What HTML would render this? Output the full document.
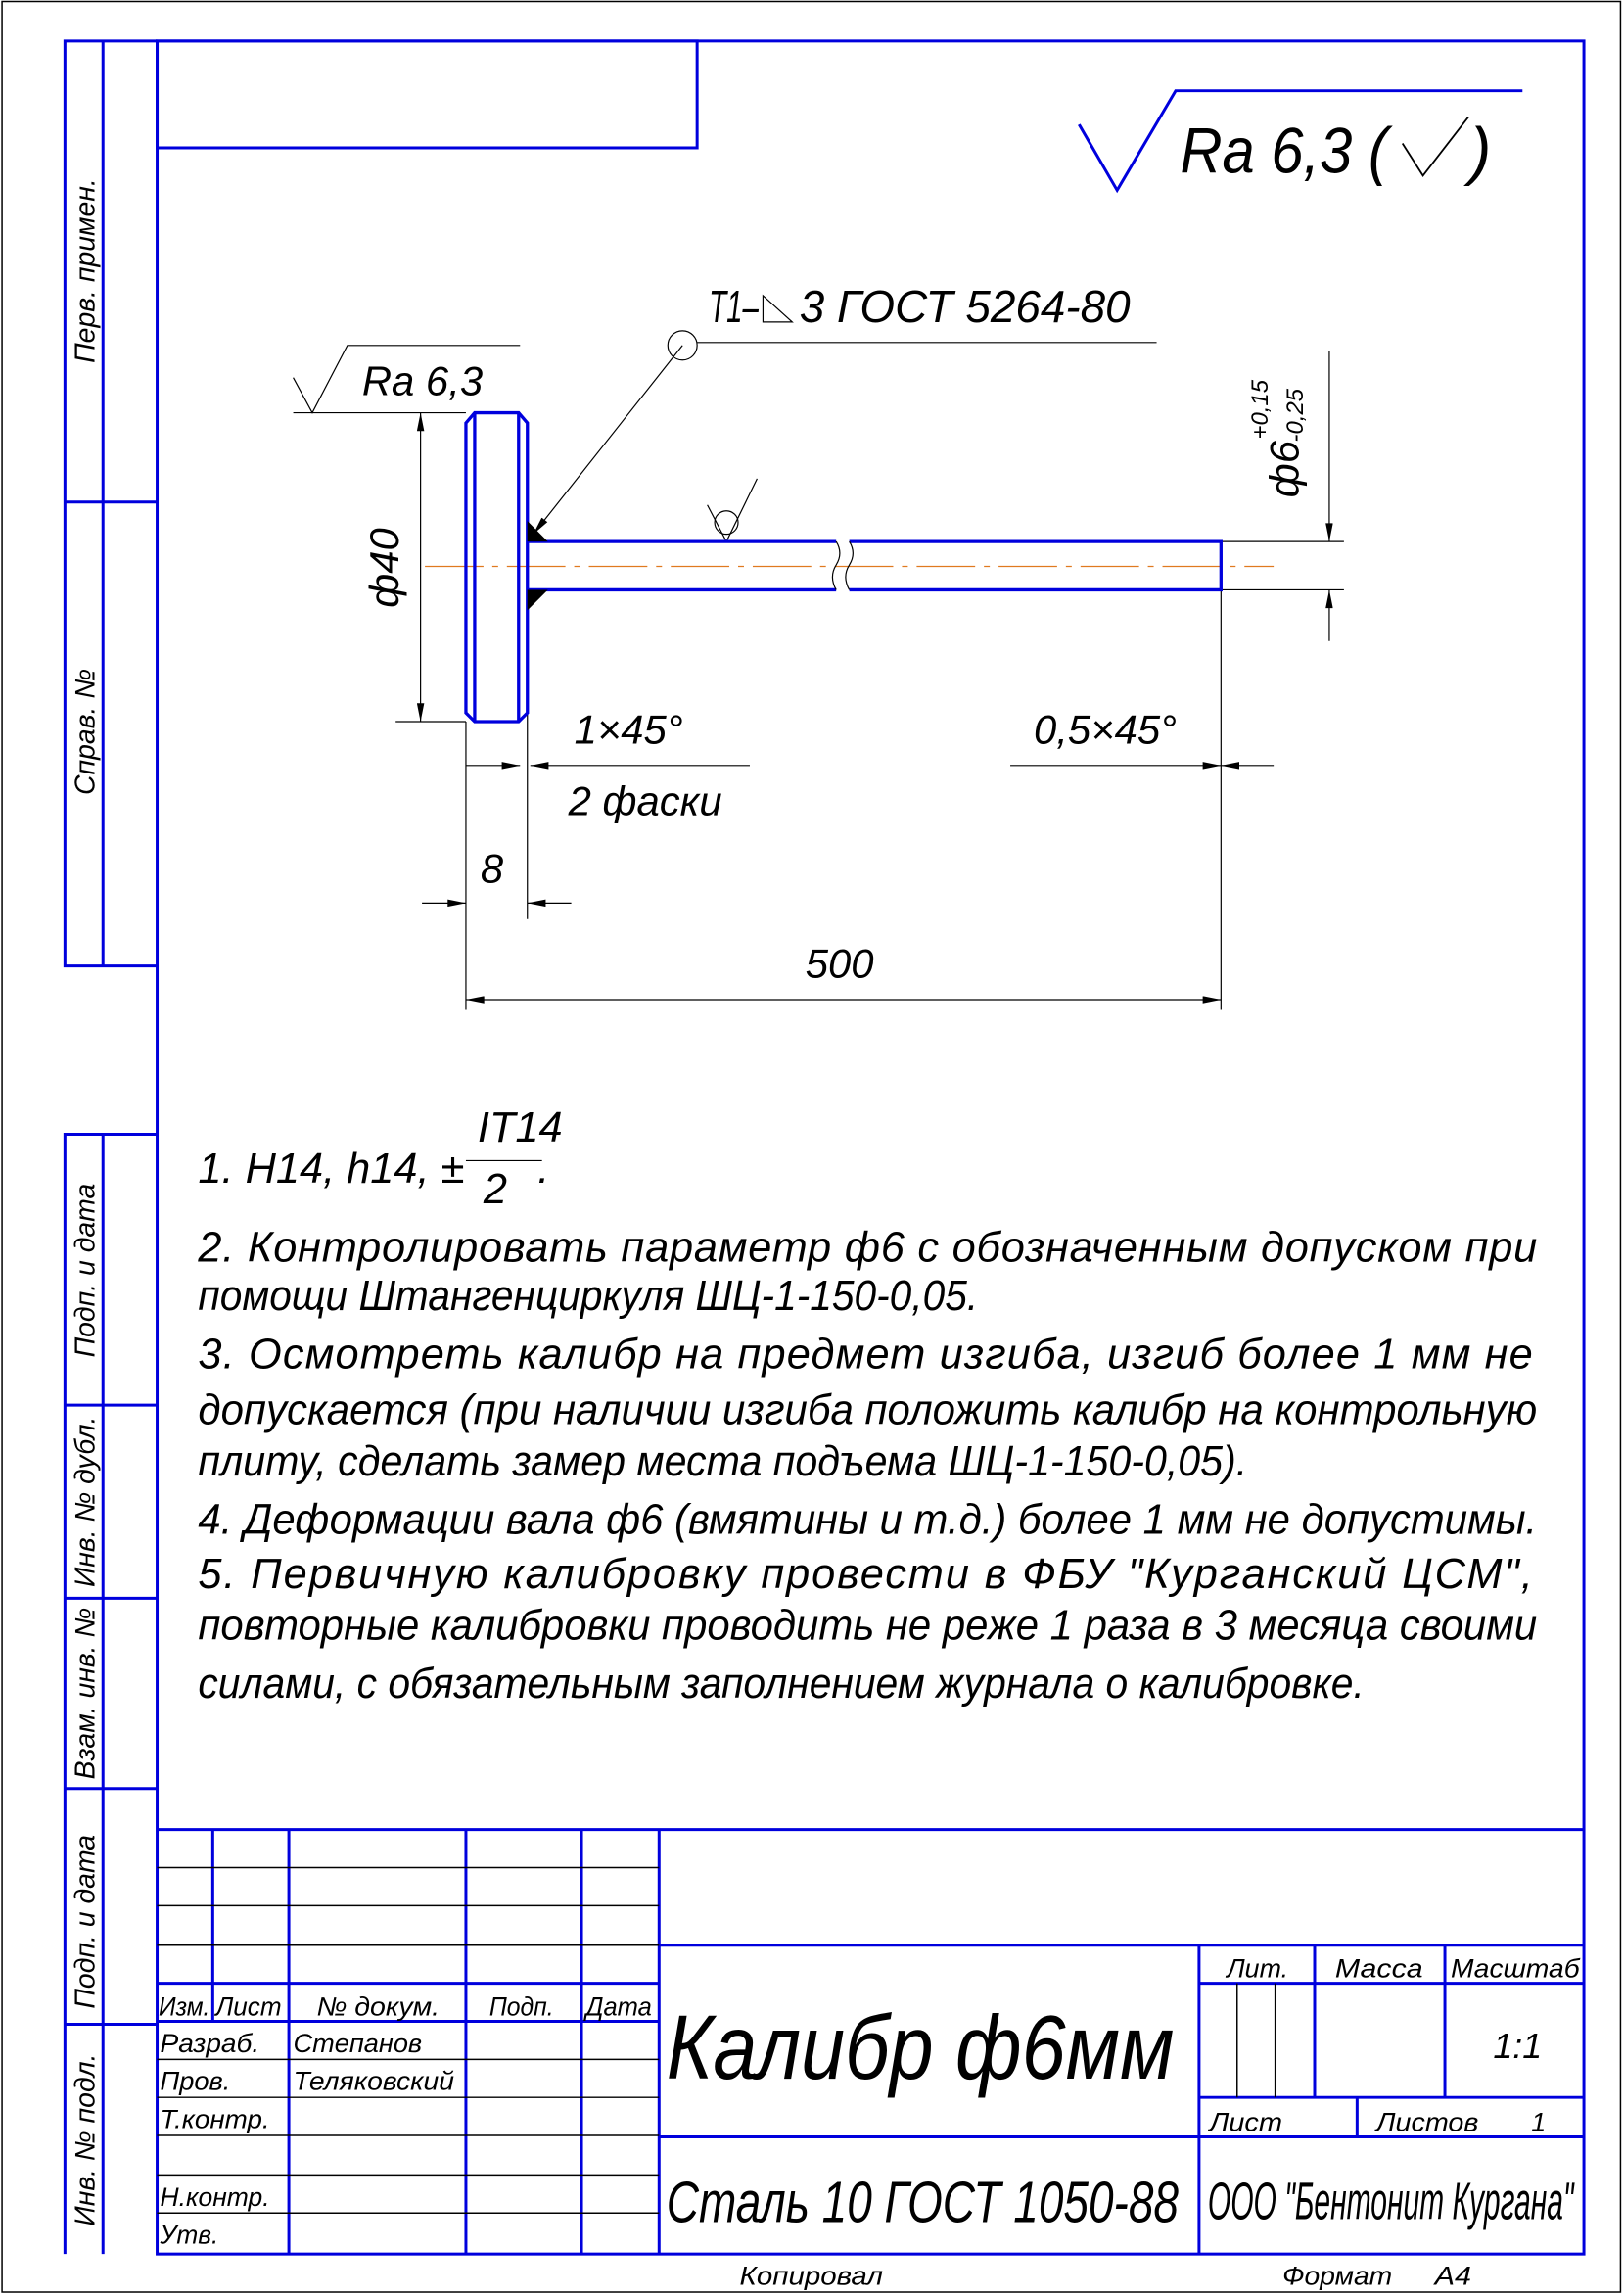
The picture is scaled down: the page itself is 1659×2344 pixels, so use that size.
<!DOCTYPE html>
<html><head><meta charset="utf-8"><style>
html,body{margin:0;padding:0;background:#fff;}
svg{display:block;}
text{font-family:"Liberation Sans","DejaVu Sans",sans-serif;font-style:italic;fill:#000;}
</style></head><body>
<svg width="1659" height="2344" viewBox="0 0 1109 1568" xmlns="http://www.w3.org/2000/svg">
<defs>
<marker id="a" viewBox="0 0 10 4" refX="10" refY="2" markerWidth="14" markerHeight="5" markerUnits="userSpaceOnUse" orient="auto-start-reverse"><path d="M0,0L10,2L0,4z" fill="#000"/></marker>
</defs>
<rect x="1" y="1" width="1106" height="1565" fill="none" stroke="#000" stroke-width="1"/>
<g stroke="#0000dd" stroke-width="2" fill="none">
<rect x="107" y="28" width="975" height="1512"/>
<rect x="107" y="28" width="369" height="73"/>
<polyline points="107,28 44,28 44,660 107,660"/>
<line x1="70" y1="28" x2="70" y2="660"/>
<line x1="44" y1="343" x2="107" y2="343"/>
<polyline points="107,775 44,775 44,1540"/>
<line x1="70" y1="775" x2="70" y2="1540"/>
<line x1="44" y1="960" x2="107" y2="960"/>
<line x1="44" y1="1092" x2="107" y2="1092"/>
<line x1="44" y1="1222" x2="107" y2="1222"/>
<line x1="44" y1="1383" x2="107" y2="1383"/>
<line x1="107" y1="1250" x2="1082" y2="1250"/>
<line x1="145" y1="1250" x2="145" y2="1381"/>
<line x1="197" y1="1250" x2="197" y2="1540"/>
<line x1="318" y1="1250" x2="318" y2="1540"/>
<line x1="397" y1="1250" x2="397" y2="1540"/>
<line x1="450" y1="1250" x2="450" y2="1540"/>
<line x1="107" y1="1355" x2="450" y2="1355"/>
<line x1="107" y1="1381" x2="450" y2="1381"/>
<line x1="450" y1="1329" x2="1082" y2="1329"/>
<line x1="450" y1="1460" x2="1082" y2="1460"/>
<line x1="819" y1="1329" x2="819" y2="1540"/>
<line x1="819" y1="1355" x2="1082" y2="1355"/>
<line x1="898" y1="1329" x2="898" y2="1433"/>
<line x1="987" y1="1329" x2="987" y2="1433"/>
<line x1="819" y1="1433" x2="1082" y2="1433"/>
<line x1="927" y1="1433" x2="927" y2="1460"/>
</g>
<g stroke="#000" stroke-width="1" fill="none">
<line x1="107" y1="1276" x2="450" y2="1276"/>
<line x1="107" y1="1302" x2="450" y2="1302"/>
<line x1="107" y1="1329" x2="450" y2="1329"/>
<line x1="107" y1="1407" x2="450" y2="1407"/>
<line x1="107" y1="1433" x2="450" y2="1433"/>
<line x1="107" y1="1459" x2="450" y2="1459"/>
<line x1="107" y1="1486" x2="450" y2="1486"/>
<line x1="107" y1="1512" x2="450" y2="1512"/>
<line x1="845" y1="1355" x2="845" y2="1433"/>
<line x1="871" y1="1355" x2="871" y2="1433"/>
</g>
<g font-size="19">
<text transform="translate(64,185) rotate(-90)" text-anchor="middle">Перв. примен.</text>
<text transform="translate(64,500) rotate(-90)" text-anchor="middle">Справ. №</text>
<text transform="translate(64,868) rotate(-90)" text-anchor="middle">Подп. и дата</text>
<text transform="translate(64,1026) rotate(-90)" text-anchor="middle">Инв. № дубл.</text>
<text transform="translate(64,1157) rotate(-90)" text-anchor="middle">Взам. инв. №</text>
<text transform="translate(64,1313) rotate(-90)" text-anchor="middle">Подп. и дата</text>
<text transform="translate(64,1462) rotate(-90)" text-anchor="middle">Инв. № подл.</text>
</g>
<g font-size="18">
<text x="108" y="1377" textLength="35" lengthAdjust="spacingAndGlyphs">Изм.</text>
<text x="147" y="1377" textLength="45" lengthAdjust="spacingAndGlyphs">Лист</text>
<text x="216" y="1377" textLength="84" lengthAdjust="spacingAndGlyphs">№ докум.</text>
<text x="334" y="1377" textLength="44" lengthAdjust="spacingAndGlyphs">Подп.</text>
<text x="400" y="1377" textLength="45" lengthAdjust="spacingAndGlyphs">Дата</text>
<text x="109" y="1402" textLength="68" lengthAdjust="spacingAndGlyphs">Разраб.</text>
<text x="200" y="1402" textLength="88" lengthAdjust="spacingAndGlyphs">Степанов</text>
<text x="109" y="1428" textLength="48" lengthAdjust="spacingAndGlyphs">Пров.</text>
<text x="200" y="1428" textLength="110" lengthAdjust="spacingAndGlyphs">Теляковский</text>
<text x="109" y="1454" textLength="75" lengthAdjust="spacingAndGlyphs">Т.контр.</text>
<text x="109" y="1507" textLength="75" lengthAdjust="spacingAndGlyphs">Н.контр.</text>
<text x="109" y="1533" textLength="40" lengthAdjust="spacingAndGlyphs">Утв.</text>
<text x="838" y="1351" textLength="42" lengthAdjust="spacingAndGlyphs">Лит.</text>
<text x="912" y="1351" textLength="60" lengthAdjust="spacingAndGlyphs">Масса</text>
<text x="991" y="1351" textLength="88" lengthAdjust="spacingAndGlyphs">Масштаб</text>
<text x="1020" y="1406" font-size="24">1:1</text>
<text x="826" y="1456" textLength="50" lengthAdjust="spacingAndGlyphs">Лист</text>
<text x="940" y="1456" textLength="70" lengthAdjust="spacingAndGlyphs">Листов</text>
<text x="1046" y="1456">1</text>
<text x="505" y="1561" textLength="98" lengthAdjust="spacingAndGlyphs">Копировал</text>
<text x="876" y="1561" textLength="75" lengthAdjust="spacingAndGlyphs">Формат</text>
<text x="980" y="1561" textLength="25" lengthAdjust="spacingAndGlyphs">А4</text>
</g>
<text x="455" y="1420" font-size="62" textLength="347" lengthAdjust="spacingAndGlyphs">Калибр ф6мм</text>
<text x="455" y="1518" font-size="40" textLength="350" lengthAdjust="spacingAndGlyphs">Сталь 10 ГОСТ 1050-88</text>
<text x="825" y="1516" font-size="36" textLength="250" lengthAdjust="spacingAndGlyphs">ООО "Бентонит Кургана"</text>
<polyline points="737,85 763,130 803,62 1040,62" fill="none" stroke="#0000dd" stroke-width="2"/>
<text x="806" y="118" font-size="44" textLength="142" lengthAdjust="spacingAndGlyphs">Ra 6,3 (</text>
<polyline points="958,98 972,120 1003,80" fill="none" stroke="#000" stroke-width="1.2"/>
<text x="1004" y="118" font-size="44">)</text>
<text x="484" y="220" font-size="31" textLength="34" lengthAdjust="spacingAndGlyphs">Т1–</text>
<polygon points="521,220 521,202 541,220" fill="none" stroke="#000" stroke-width="0.8"/>
<text x="546" y="220" font-size="31" textLength="226" lengthAdjust="spacingAndGlyphs">3 ГОСТ 5264-80</text>
<g stroke="#000" stroke-width="0.8" fill="none">
<line x1="476" y1="234" x2="790" y2="234"/>
<circle cx="466" cy="236" r="10"/>
<line x1="466" y1="236" x2="364" y2="365" marker-end="url(#a)"/>
<polyline points="483,345 496,370 517,327"/>
<circle cx="496" cy="357" r="8"/>
<polyline points="200,258 213,282 237,236 355,236"/>
<line x1="200" y1="282" x2="318" y2="282"/>
<line x1="270" y1="493" x2="318" y2="493"/>
<line x1="287" y1="282" x2="287" y2="493" marker-start="url(#a)" marker-end="url(#a)"/>
<line x1="834" y1="370" x2="918" y2="370"/>
<line x1="834" y1="403" x2="918" y2="403"/>
<line x1="908" y1="240" x2="908" y2="370" marker-end="url(#a)"/>
<line x1="908" y1="438" x2="908" y2="403" marker-end="url(#a)"/>
<line x1="318" y1="493" x2="318" y2="690"/>
<line x1="360" y1="403" x2="360" y2="628"/>
<line x1="834" y1="403" x2="834" y2="690"/>
<line x1="318" y1="523" x2="355" y2="523" marker-end="url(#a)"/>
<line x1="512" y1="523" x2="362" y2="523" marker-end="url(#a)"/>
<line x1="690" y1="523" x2="834" y2="523" marker-end="url(#a)"/>
<line x1="870" y1="523" x2="834" y2="523" marker-end="url(#a)"/>
<line x1="288" y1="617" x2="318" y2="617" marker-end="url(#a)"/>
<line x1="390" y1="617" x2="360" y2="617" marker-end="url(#a)"/>
<line x1="318" y1="683" x2="834" y2="683" marker-start="url(#a)" marker-end="url(#a)"/>
</g>
<line x1="290" y1="387" x2="870" y2="387" stroke="#e07a20" stroke-width="0.8" stroke-dasharray="40,6,4,6"/>
<g stroke="#0000dd" stroke-width="2.2" fill="none">
<polygon points="318,289 324,282 354,282 360,289 360,487 354,493 324,493 318,487"/>
<line x1="324" y1="282" x2="324" y2="493"/>
<line x1="354" y1="282" x2="354" y2="493"/>
<polyline points="360,370 571,370"/>
<polyline points="360,403 571,403"/>
<polyline points="580,370 834,370 834,403 580,403"/>
</g>
<g stroke="#000" stroke-width="0.8" fill="none">
<path d="M571,370 q5,8 0,16 q-5,8 0,17"/>
<path d="M580,370 q5,8 0,16 q-5,8 0,17"/>
</g>
<polygon points="360,356 374,370 360,370" fill="#000"/>
<polygon points="360,403 374,403 360,417" fill="#000"/>
<text x="247" y="270" font-size="28">Ra 6,3</text>
<text transform="translate(272,388) rotate(-90)" font-size="28" text-anchor="middle">ф40</text>
<text transform="translate(887,340) rotate(-90)" font-size="28">ф6</text>
<text transform="translate(866,300) rotate(-90)" font-size="16">+0,15</text>
<text transform="translate(890,302) rotate(-90)" font-size="16">-0,25</text>
<text x="392" y="508" font-size="28">1×45°</text>
<text x="388" y="557" font-size="28">2 фаски</text>
<text x="706" y="508" font-size="28">0,5×45°</text>
<text x="328" y="603" font-size="28">8</text>
<text x="550" y="668" font-size="28">500</text>
<g font-size="29">
<text x="135" y="808">1. Н14, h14, ±</text>
<text x="326" y="780">IT14</text>
<line x1="318" y1="793" x2="370" y2="793" stroke="#000" stroke-width="0.8"/>
<text x="330" y="822">2</text>
<text x="367" y="808">.</text>
<text x="135" y="862" textLength="915" lengthAdjust="spacing">2. Контролировать параметр ф6 с обозначенным допуском при</text>
<text x="135" y="895" textLength="533" lengthAdjust="spacingAndGlyphs">помощи Штангенциркуля ШЦ-1-150-0,05.</text>
<text x="135" y="935" textLength="912" lengthAdjust="spacing">3. Осмотреть калибр на предмет изгиба, изгиб более 1 мм не</text>
<text x="135" y="973" textLength="915" lengthAdjust="spacingAndGlyphs">допускается (при наличии изгиба положить калибр на контрольную</text>
<text x="135" y="1008" textLength="717" lengthAdjust="spacingAndGlyphs">плиту, сделать замер места подъема ШЦ-1-150-0,05).</text>
<text x="135" y="1048" textLength="915" lengthAdjust="spacingAndGlyphs">4. Деформации вала ф6 (вмятины и т.д.) более 1 мм не допустимы.</text>
<text x="135" y="1085" textLength="912" lengthAdjust="spacing">5. Первичную калибровку провести в ФБУ "Курганский ЦСМ",</text>
<text x="135" y="1120" textLength="915" lengthAdjust="spacingAndGlyphs">повторные калибровки проводить не реже 1 раза в 3 месяца своими</text>
<text x="135" y="1160" textLength="797" lengthAdjust="spacingAndGlyphs">силами, с обязательным заполнением журнала о калибровке.</text>
</g>
</svg>
</body></html>
